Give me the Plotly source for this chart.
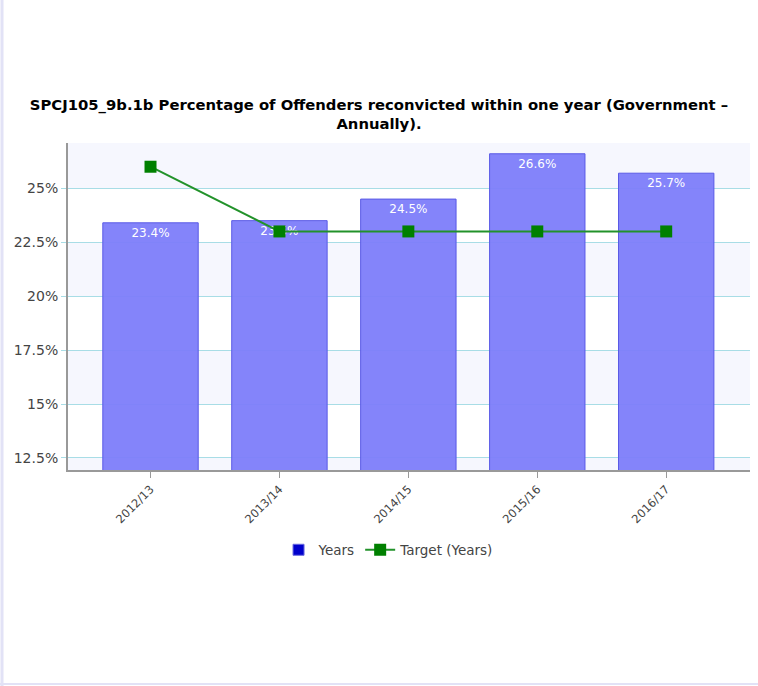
import plotly.graph_objects as go

categories = ["2012/13", "2013/14", "2014/15", "2015/16", "2016/17"]
years_values = [23.4, 23.5, 24.5, 26.6, 25.7]
target_values = [26.0, 23.0, 23.0, 23.0, 23.0]
y_ticks = [12.5, 15, 17.5, 20, 22.5, 25]
y_tick_labels = ["12.5%", "15%", "17.5%", "20%", "22.5%", "25%"]

title_text = ("SPCJ105_9b.1b Percentage of Offenders reconvicted within one year (Government \u2013"
              "<br>Annually).")

fig = go.Figure()

fig.add_trace(go.Bar(
    x=categories, y=years_values, name="Years",
    marker=dict(color="rgba(125,125,250,0.95)", line=dict(color="#5a5ae6", width=1)),
    width=0.74,
    text=[f"{v}%" for v in years_values],
    textposition="inside", insidetextanchor="end",
    textfont=dict(color="white", size=12, family="DejaVu Sans"),
    showlegend=False,
))
# legend proxy for blue square
fig.add_trace(go.Scatter(
    x=[None], y=[None], mode="markers", name="Years",
    marker=dict(symbol="square", size=11, color="#0000cc", line=dict(color="#6a6ae0", width=1)),
))
fig.add_trace(go.Scatter(
    x=categories, y=target_values, name="Target (Years)",
    mode="lines+markers",
    line=dict(color="#22922a", width=2),
    marker=dict(symbol="square", size=12, color="#008000"),
))

# alternating bands
band_edges = [11.94, 12.5, 15, 17.5, 20, 22.5, 25, 27.1]
shapes = []
for i in range(len(band_edges) - 1):
    lo, hi = band_edges[i], band_edges[i + 1]
    if lo in (11.94, 15, 20, 25):
        shapes.append(dict(type="rect", xref="paper", yref="y", x0=0, x1=1, y0=lo, y1=hi,
                           fillcolor="#f6f7fe", line=dict(width=0), layer="below"))
# page border lines
shapes.append(dict(type="line", xref="paper", yref="paper", x0=-66/682, x1=-66/682,
                   y0=-216/327, y1=(327 + 143) / 327, line=dict(color="#e2e2f6", width=3)))
shapes.append(dict(type="line", xref="paper", yref="paper", x0=-68/682, x1=1 + 8/682,
                   y0=-214/327, y1=-214/327, line=dict(color="#e2e2f6", width=2)))

fig.update_layout(
    width=758, height=686,
    margin=dict(l=68, r=8, t=143, b=216),
    paper_bgcolor="white", plot_bgcolor="white",
    title=dict(text=title_text, x=0.5, xanchor="center", y=1 - 110/686, yanchor="top",
               font=dict(family="DejaVu Sans", size=14.8, color="black", weight="bold")),
    shapes=shapes,
    bargap=0.26,
    showlegend=True,
    legend=dict(orientation="h", x=0.47, xanchor="center", y=-80/327, yanchor="middle",
                font=dict(family="DejaVu Sans", size=13.5, color="#444"),
                itemwidth=30, tracegroupgap=0),
    font=dict(family="DejaVu Sans"),
)
fig.update_xaxes(
    range=[-0.64, 4.65], tickangle=-45,
    showline=True, linecolor="#999", linewidth=2,
    ticks="outside", ticklen=6, tickcolor="#999",
    tickfont=dict(size=11.5, color="#444"),
    showgrid=False,
)
fig.update_yaxes(
    range=[11.94, 27.1], tickvals=y_ticks, ticktext=y_tick_labels,
    showline=True, linecolor="#999", linewidth=2,
    ticks="outside", ticklen=5, tickcolor="#a8dde6",
    tickfont=dict(size=14, color="#444"),
    showgrid=True, gridcolor="#a8dde6", gridwidth=1, zeroline=False,
)

fig.write_html("out.html")
